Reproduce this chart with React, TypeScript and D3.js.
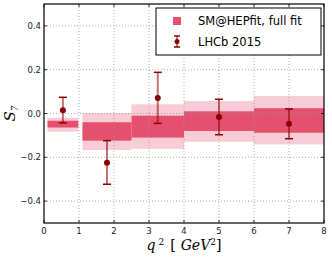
import React from "react";
import * as d3 from "d3";

// SM@HEPfit bins: [lo, hi], 1σ band and 2σ band
const BIN_LO = [0.1, 1.1, 2.5, 4, 6];
const BIN_HI = [0.98, 2.5, 4, 6, 8];
const SM_1S_TOP = [-0.033, -0.040, -0.010, 0.010, 0.024];
const SM_1S_BOT = [-0.064, -0.124, -0.110, -0.080, -0.088];
const SM_2S_TOP = [-0.019, 0.002, 0.042, 0.057, 0.080];
const SM_2S_BOT = [-0.083, -0.167, -0.161, -0.129, -0.141];

// LHCb 2015 measurements
const LHCB_X = [0.54, 1.8, 3.25, 5, 7];
const LHCB_Y = [0.015, -0.225, 0.071, -0.016, -0.047];
const LHCB_UP = [0.074, -0.124, 0.188, 0.065, 0.021];
const LHCB_DN = [-0.043, -0.323, -0.045, -0.097, -0.115];

const X_TICKS = [0, 1, 2, 3, 4, 5, 6, 7, 8];
const Y_TICKS = [-0.4, -0.2, 0.0, 0.2, 0.4];

const DARK = "#e5506f";
const LIGHT = "#f8ccd6";
const POINT = "#8b0000";

const W = 332;
const H = 260;
const M = { top: 4, right: 8, bottom: 37, left: 44 };

const App: React.FC = () => {
  const iW = W - M.left - M.right;
  const iH = H - M.top - M.bottom;
  const x = d3.scaleLinear().domain([0, 8]).range([0, iW]);
  const y = d3.scaleLinear().domain([-0.5, 0.5]).range([iH, 0]);
  const fmt = (v: number) => d3.format(".1f")(v).replace("-", "\u2212");

  const bins = BIN_LO.map((lo, i) => ({ lo, hi: BIN_HI[i], t1: SM_1S_TOP[i], b1: SM_1S_BOT[i], t2: SM_2S_TOP[i], b2: SM_2S_BOT[i] }));
  const pts = LHCB_X.map((v, i) => ({ x: v, y: LHCB_Y[i], up: LHCB_UP[i], dn: LHCB_DN[i] }));

  return (
    <svg width={W} height={H} style={{ position: "absolute", left: 0, top: 0, fontFamily: "DejaVu Sans, sans-serif" }}>
      <g transform={`translate(${M.left},${M.top})`}>
        {/* bands */}
        {bins.map((b, i) => (
          <rect key={"l" + i} x={x(b.lo)} width={x(b.hi) - x(b.lo)} y={y(b.t2)} height={y(b.b2) - y(b.t2)} fill={LIGHT} />
        ))}
        {bins.map((b, i) => (
          <rect key={"d" + i} x={x(b.lo)} width={x(b.hi) - x(b.lo)} y={y(b.t1)} height={y(b.b1) - y(b.t1)} fill={DARK} />
        ))}

        {/* grid */}
        {X_TICKS.slice(1, -1).map(t => (
          <line key={"gx" + t} x1={x(t)} x2={x(t)} y1={0} y2={iH} stroke="#999" strokeWidth={0.8} strokeDasharray="1,2" />
        ))}
        {Y_TICKS.map(t => (
          <line key={"gy" + t} x1={0} x2={iW} y1={y(t)} y2={y(t)} stroke="#999" strokeWidth={0.8} strokeDasharray="1,2" />
        ))}

        {/* data */}
        {pts.map((p, i) => (
          <g key={"p" + i}>
            <line x1={x(p.x)} x2={x(p.x)} y1={y(p.up)} y2={y(p.dn)} stroke={POINT} strokeOpacity={0.55} strokeWidth={2} />
            <line x1={x(p.x) - 4} x2={x(p.x) + 4} y1={y(p.up)} y2={y(p.up)} stroke={POINT} strokeWidth={1.5} />
            <line x1={x(p.x) - 4} x2={x(p.x) + 4} y1={y(p.dn)} y2={y(p.dn)} stroke={POINT} strokeWidth={1.5} />
            <circle cx={x(p.x)} cy={y(p.y)} r={3} fill={POINT} />
          </g>
        ))}

        {/* ticks */}
        {X_TICKS.map(t => (
          <g key={"tx" + t}>
            <line x1={x(t)} x2={x(t)} y1={iH} y2={iH - 3} stroke="#000" strokeWidth={0.8} />
            <line x1={x(t)} x2={x(t)} y1={0} y2={3} stroke="#000" strokeWidth={0.8} />
            <text x={x(t)} y={iH + 11} fontSize={8.5} textAnchor="middle" fill="#222">{t}</text>
          </g>
        ))}
        {Y_TICKS.map(t => (
          <g key={"ty" + t}>
            <line x1={0} x2={3} y1={y(t)} y2={y(t)} stroke="#000" strokeWidth={0.8} />
            <line x1={iW} x2={iW - 3} y1={y(t)} y2={y(t)} stroke="#000" strokeWidth={0.8} />
            <text x={-3} y={y(t) + 3} fontSize={8.5} textAnchor="end" fill="#222">{fmt(t)}</text>
          </g>
        ))}

        <rect x={0} y={0} width={iW} height={iH} fill="none" stroke="#000" strokeWidth={1.2} />

        {/* legend */}
        <g transform={`translate(${156 - M.left},${8 - M.top})`}>
          <rect x={0} y={0} width={165} height={47} fill="#fff" stroke="#000" strokeWidth={1} />
          <rect x={17} y={9} width={8} height={8} fill={DARK} />
          <text x={42} y={17} fontSize={11.5} fill="#000">SM@HEPfit, full fit</text>
          <line x1={21} x2={21} y1={28} y2={39} stroke={POINT} strokeOpacity={0.55} strokeWidth={2} />
          <line x1={18} x2={24} y1={28} y2={28} stroke={POINT} strokeWidth={1.5} />
          <line x1={18} x2={24} y1={39} y2={39} stroke={POINT} strokeWidth={1.5} />
          <circle cx={21} cy={33.5} r={2.5} fill={POINT} />
          <text x={42} y={38} fontSize={11.5} fill="#000">LHCb 2015</text>
        </g>
      </g>

      {/* axis labels */}
      <text transform={`translate(15,${M.top + y(0)}) rotate(-90)`} textAnchor="middle" fontFamily="DejaVu Serif, serif" fontStyle="italic" fontSize={15}>
        S<tspan fontSize={9} dy={3}>7</tspan>
      </text>
      <text x={M.left + x(4)} y={250} textAnchor="middle" fontFamily="DejaVu Serif, serif" fontSize={14}>
        <tspan fontStyle="italic">q</tspan>
        <tspan fontSize={9} dx={3} dy={-5}>2</tspan>
        <tspan dx={6} dy={5}>[</tspan>
        <tspan fontStyle="italic" dx={5}>GeV</tspan>
        <tspan fontSize={9} dy={-5}>2</tspan>
        <tspan dy={5}>]</tspan>
      </text>
    </svg>
  );
};

export default App;
